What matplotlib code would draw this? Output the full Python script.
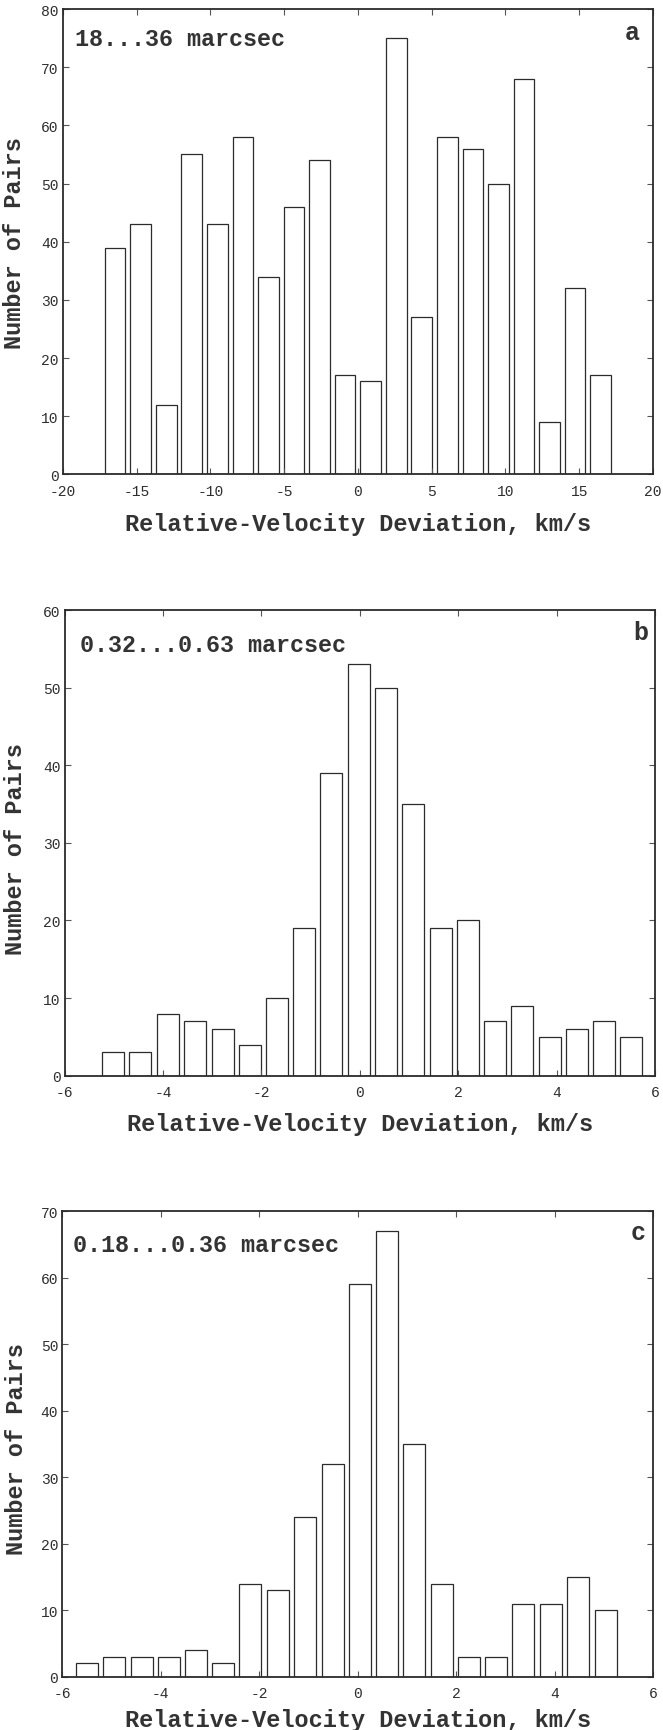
#!/usr/bin/env python3
# -*- coding: utf-8 -*-
"""
Histograms of relative-velocity deviation for three separation ranges.
"""

import matplotlib
matplotlib.use("Agg")
import matplotlib.pyplot as plt


# Panel a: 18...36 marcsec
centers_a = [-16.45, -14.72, -12.99, -11.26, -9.52, -7.79, -6.06, -4.33, -2.60, -0.87,
             0.87, 2.60, 4.33, 6.06, 7.79, 9.52, 11.26, 12.99, 14.72, 16.45]
counts_a = [39, 43, 12, 55, 43, 58, 34, 46, 54, 17,
            16, 75, 27, 58, 56, 50, 68, 9, 32, 17]

# Panel b: 0.32...0.63 marcsec
centers_b = [-5.01, -4.46, -3.90, -3.35, -2.79, -2.24, -1.68, -1.13, -0.58, -0.02,
             0.53, 1.09, 1.64, 2.20, 2.75, 3.30, 3.86, 4.41, 4.97, 5.52]
counts_b = [3, 3, 8, 7, 6, 4, 10, 19, 39, 53,
            50, 35, 19, 20, 7, 9, 5, 6, 7, 5]

# Panel c: 0.18...0.36 marcsec
centers_c = [-5.50, -4.95, -4.39, -3.84, -3.28, -2.73, -2.18, -1.62, -1.07, -0.51,
             0.04, 0.59, 1.15, 1.70, 2.26, 2.81, 3.36, 3.92, 4.47, 5.03]
counts_c = [2, 3, 3, 3, 4, 2, 14, 13, 24, 32,
            59, 67, 35, 14, 3, 3, 11, 11, 15, 10]

MONO = "Liberation Mono"
INK = "#2b2b2b"

plt.rcParams["axes.unicode_minus"] = False

panels = [
    dict(centers=centers_a, counts=counts_a, width=1.40, xlim=(-20, 20), xstep=5,
         ylim=(0, 80), label="18...36 marcsec", letter="a",
         rect=[0.0946, 0.7254, 0.8904, 0.2688],
         ann=(0.0215, 0.937), let=(0.978, 0.951), ylab=(-0.081, 0.499), xlab=-0.1047),
    dict(centers=centers_b, counts=counts_b, width=0.447, xlim=(-6, 6), xstep=2,
         ylim=(0, 60), label="0.32...0.63 marcsec", letter="b",
         rect=[0.0976, 0.3780, 0.8903, 0.2690],
         ann=(0.0266, 0.927), let=(0.989, 0.953), ylab=(-0.084, 0.489), xlab=-0.1031),
    dict(centers=centers_c, counts=counts_c, width=0.446, xlim=(-6, 6), xstep=2,
         ylim=(0, 70), label="0.18...0.36 marcsec", letter="c",
         rect=[0.0940, 0.0308, 0.8914, 0.2690],
         ann=(0.0178, 0.929), let=(0.987, 0.955), ylab=(-0.077, 0.491), xlab=-0.0923),
]


def draw_panel(fig, p):
    ax = fig.add_axes(p["rect"])
    ax.bar(p["centers"], p["counts"], width=p["width"], color="white",
           edgecolor=INK, linewidth=0.9)
    ax.set_xlim(*p["xlim"])
    ax.set_ylim(*p["ylim"])
    lo, hi = p["xlim"]
    ax.set_xticks(range(lo, hi + 1, p["xstep"]))
    ax.set_yticks(range(p["ylim"][0], p["ylim"][1] + 1, 10))

    for side in ax.spines.values():
        side.set_color(INK)
        side.set_linewidth(1.3)
    ax.tick_params(direction="in", length=4, width=0.8, color="#555555",
                   top=True, right=True, labelsize=10.5, labelcolor="#2e2e2e")
    ax.tick_params(axis="x", pad=7)
    ax.tick_params(axis="y", pad=3)
    for t in ax.get_xticklabels() + ax.get_yticklabels():
        t.set_fontfamily(MONO)

    ax.set_xlabel("Relative-Velocity Deviation, km/s", fontfamily=MONO,
                  fontweight="bold", fontsize=17, color="#333333")
    ax.xaxis.set_label_coords(0.5, p["xlab"])
    ax.xaxis.label.set_va("center")
    ax.set_ylabel("Number of Pairs", fontfamily=MONO, fontweight="bold",
                  fontsize=17, color="#333333")
    ax.yaxis.set_label_coords(*p["ylab"])
    ax.yaxis.label.set_va("center")

    ax.text(p["ann"][0], p["ann"][1], p["label"], transform=ax.transAxes,
            ha="left", va="center", fontfamily=MONO, fontweight="bold",
            fontsize=16.8, color="#333333")
    ax.text(p["let"][0], p["let"][1], p["letter"], transform=ax.transAxes,
            ha="right", va="center", fontfamily=MONO, fontweight="bold",
            fontsize=18, color="#333333")
    return ax


def main() -> None:
    fig = plt.figure(figsize=(6.63, 17.31), dpi=100)
    for p in panels:
        draw_panel(fig, p)
    fig.savefig("out.png", dpi=100, facecolor="white")
    plt.close(fig)


if __name__ == "__main__":
    main()
